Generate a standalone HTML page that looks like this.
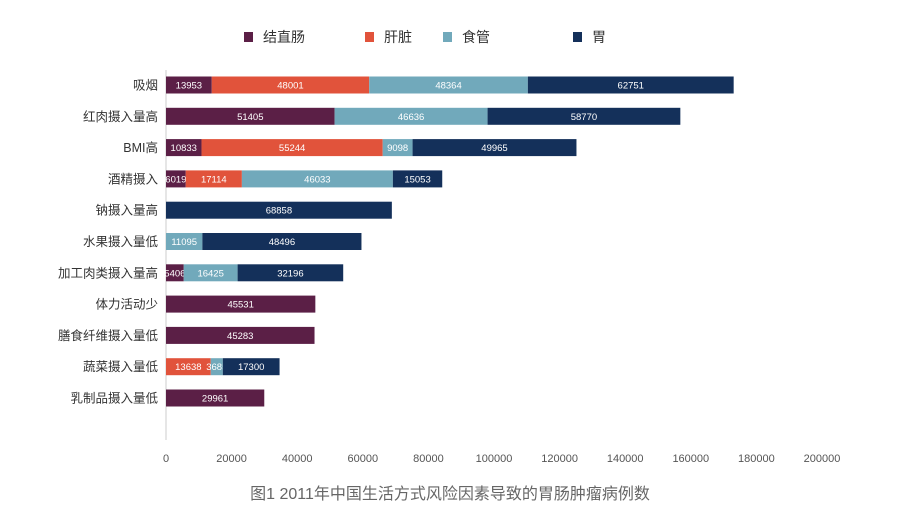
<!DOCTYPE html>
<html><head><meta charset="utf-8"><style>
body{margin:0;background:#fff;font-family:"Liberation Sans","Noto Sans CJK SC",sans-serif;}
svg text{font-family:"Liberation Sans","Noto Sans CJK SC",sans-serif;}
</style></head><body>
<svg id="chart" width="900" height="523" viewBox="0 0 900 523"></svg>
<script>
const categories=["吸烟","红肉摄入量高","BMI高","酒精摄入","钠摄入量高","水果摄入量低","加工肉类摄入量高","体力活动少","膳食纤维摄入量低","蔬菜摄入量低","乳制品摄入量低"];
const seriesNames=["结直肠","肝脏","食管","胃"];
const colorectal=[13953,51405,10833,6019,0,0,5406,45531,45283,0,29961];
const liver=[48001,0,55244,17114,0,0,0,0,0,13638,0];
const esophagus=[48364,46636,9098,46033,0,11095,16425,0,0,3685,0];
const stomach=[62751,58770,49965,15053,68858,48496,32196,0,0,17300,0];
const xTicks=[0,20000,40000,60000,80000,100000,120000,140000,160000,180000,200000];
const series=[colorectal,liver,esophagus,stomach];
const colors=["#5b1f46","#e1533b","#71a9bb","#14305a"];
const NS="http://www.w3.org/2000/svg";
const svg=document.getElementById('chart');
const x0=166,x1=822,y0=85,step=31.3,bh=17;
function xs(v){return x0+v*(x1-x0)/200000;}
function ys(i){return y0+i*step;}
function mk(t,a,p){const e=document.createElementNS(NS,t);for(const k in a)e.setAttribute(k,a[k]);(p||svg).appendChild(e);return e;}
// legend
const legX=[244,365,443,573];
seriesNames.forEach((n,i)=>{
  const g=mk('g',{});
  
  
  mk('rect',{x:legX[i],y:32,width:9,height:10,fill:colors[i]},g);
  const t=mk('text',{x:legX[i]+19,y:42,'font-size':14,fill:'#333'},g);t.textContent=n;
});
// axis line
const ax=mk('line',{x1:x0,y1:70,x2:x0,y2:440,stroke:'#ccc','stroke-width':1});


// x ticks
xTicks.forEach(v=>{
  const t=mk('text',{x:xs(v),y:462,'font-size':11,fill:'#555','text-anchor':'middle'});
  
  
  t.textContent=v;
});
categories.forEach((c,i)=>{
  const cy=ys(i);
  const lab=mk('text',{x:158,y:cy+4.5,'font-size':12.5,fill:'#333','text-anchor':'end'});
  
  
  lab.textContent=c;
  let acc=0;
  series.forEach((s,k)=>{
    const v=s[i];if(!v)return;
    const xa=xs(acc),xb=xs(acc+v);acc+=v;
    const r=mk('rect',{x:xa,y:cy-bh/2,width:xb-xa,height:bh,fill:colors[k]});
    
    
    const t=mk('text',{x:(xa+xb)/2,y:cy+3.5,'font-size':9.5,fill:'#fff','text-anchor':'middle'});
    
    
    t.textContent=v;
  });
});
const cap=mk('text',{x:450,y:499,'font-size':16,fill:'#666','text-anchor':'middle'});


cap.textContent="图1 2011年中国生活方式风险因素导致的胃肠肿瘤病例数";
</script>
</body></html>
